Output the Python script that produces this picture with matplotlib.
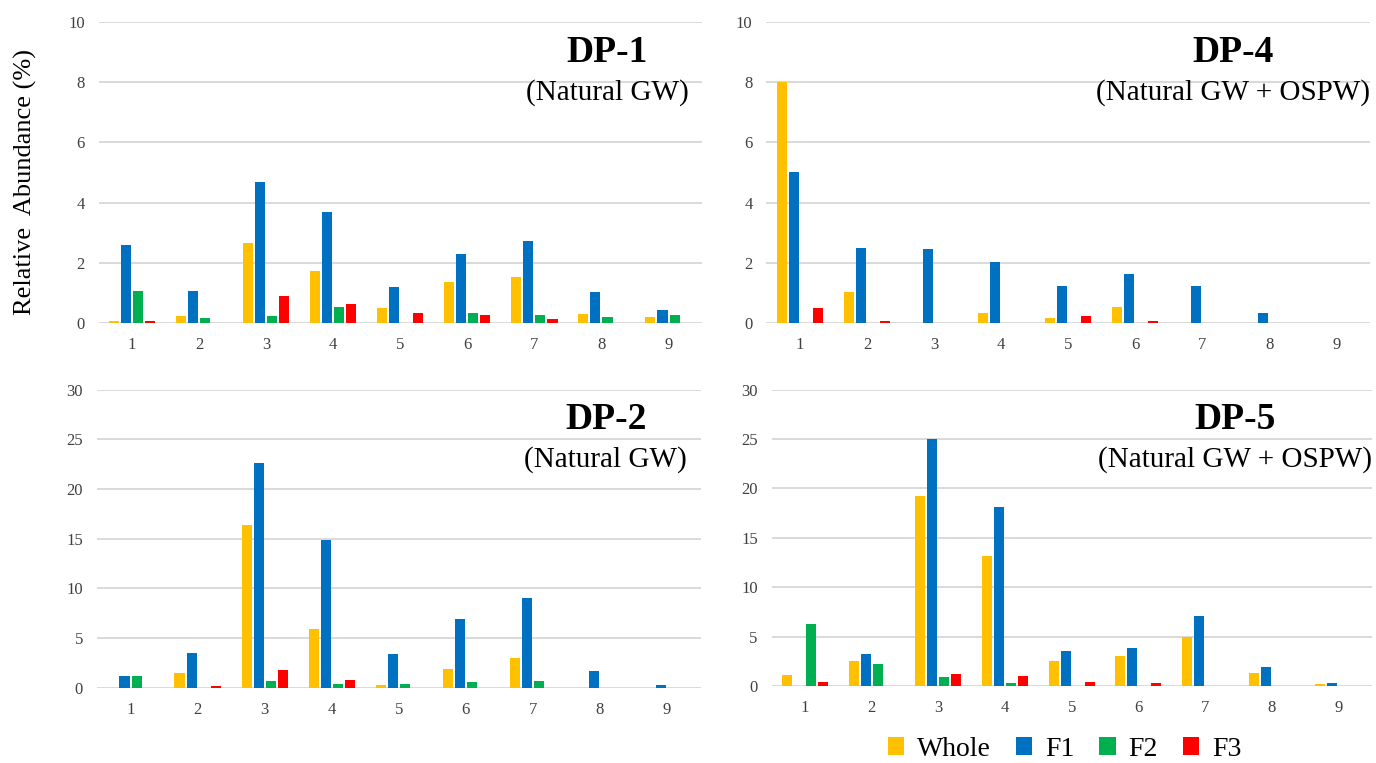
import matplotlib
matplotlib.use('Agg')
import matplotlib.pyplot as plt
import numpy as np

plt.rcParams['font.family'] = ['Liberation Serif', 'DejaVu Serif']

# values (relative abundance, %)
categories = [1, 2, 3, 4, 5, 6, 7, 8, 9]
series_names = ['Whole', 'F1', 'F2', 'F3']
colors = ['#FFC000', '#0070C0', '#00B050', '#FF0000']

dp1_whole = [0.06, 0.24, 2.67, 1.74, 0.49, 1.36, 1.52, 0.30, 0.19]
dp1_f1 = [2.59, 1.06, 4.70, 3.70, 1.19, 2.29, 2.71, 1.03, 0.44]
dp1_f2 = [1.06, 0.17, 0.24, 0.52, 0.0, 0.33, 0.26, 0.19, 0.26]
dp1_f3 = [0.06, 0.0, 0.88, 0.64, 0.33, 0.26, 0.13, 0.0, 0.0]

dp4_whole = [8.00, 1.03, 0.0, 0.32, 0.18, 0.52, 0.0, 0.0, 0.0]
dp4_f1 = [5.03, 2.49, 2.47, 2.01, 1.22, 1.63, 1.22, 0.32, 0.0]
dp4_f2 = [0.0, 0.0, 0.0, 0.0, 0.0, 0.0, 0.0, 0.0, 0.0]
dp4_f3 = [0.50, 0.08, 0.0, 0.0, 0.22, 0.08, 0.0, 0.0, 0.0]

dp2_whole = [0.0, 1.51, 16.34, 5.94, 0.30, 1.85, 2.95, 0.0, 0.0]
dp2_f1 = [1.17, 3.46, 22.58, 14.83, 3.36, 6.88, 9.00, 1.68, 0.30]
dp2_f2 = [1.17, 0.0, 0.64, 0.34, 0.40, 0.57, 0.64, 0.0, 0.0]
dp2_f3 = [0.0, 0.20, 1.78, 0.74, 0.0, 0.0, 0.0, 0.0, 0.0]

dp5_whole = [1.08, 2.49, 19.20, 13.20, 2.49, 3.03, 4.95, 1.35, 0.20]
dp5_f1 = [0.0, 3.23, 24.98, 18.10, 3.57, 3.87, 7.07, 1.89, 0.34]
dp5_f2 = [6.26, 2.26, 0.88, 0.30, 0.0, 0.0, 0.0, 0.0, 0.0]
dp5_f3 = [0.37, 0.0, 1.18, 1.00, 0.37, 0.34, 0.0, 0.0, 0.0]

panels = [
    ('DP-1', '(Natural GW)', [dp1_whole, dp1_f1, dp1_f2, dp1_f3], 10, 2,
     [0.0716, 0.5767, 0.4386, 0.3945], 0.843),
    ('DP-4', '(Natural GW + OSPW)', [dp4_whole, dp4_f1, dp4_f2, dp4_f3], 10, 2,
     [0.5570, 0.5767, 0.4386, 0.3945], 0.773),
    ('DP-2', '(Natural GW)', [dp2_whole, dp2_f1, dp2_f2, dp2_f3], 30, 5,
     [0.0705, 0.0987, 0.4386, 0.3906], 0.843),
    ('DP-5', '(Natural GW + OSPW)', [dp5_whole, dp5_f1, dp5_f2, dp5_f3], 30, 5,
     [0.5608, 0.1009, 0.4360, 0.3886], 0.773),
]

fig = plt.figure(figsize=(13.76, 7.63), dpi=100)

x = np.array(categories)
pitch = 0.18
width = 0.15
offsets = [-1.5 * pitch, -0.5 * pitch, 0.5 * pitch, 1.5 * pitch]

for title, sub, data, ymax, step, rect, tx in panels:
    ax = fig.add_axes(rect)
    for vals, c, off, name in zip(data, colors, offsets, series_names):
        ax.bar(x + off, vals, width=width, color=c, label=name, zorder=3)
    ax.set_xlim(0.5, 9.5)
    ax.set_ylim(0, ymax)
    ax.set_yticks(np.arange(0, ymax + step, step))
    ax.set_xticks(x)
    ax.yaxis.grid(True, color='#d9d9d9', lw=1.4, zorder=0)
    ax.set_axisbelow(True)
    for s in ax.spines.values():
        s.set_visible(False)
    ax.tick_params(length=0, labelsize=12, labelcolor='#404040', pad=10)
    ax.text(tx, 0.90, title, transform=ax.transAxes, ha='center', va='center',
            fontsize=27, fontweight='bold')
    ax.text(tx, 0.765, sub, transform=ax.transAxes, ha='center', va='center',
            fontsize=21)
    if title == 'DP-1':
        handles, labels = ax.get_legend_handles_labels()

fig.text(25 / 1376, 1 - 182 / 763, 'Relative  Abundance (%)', rotation=90,
         ha='center', va='center', fontsize=19)

fig.legend(handles, labels, loc='center', bbox_to_anchor=(0.7736, 0.018),
           ncol=4, frameon=False, fontsize=20, handlelength=0.6,
           handleheight=0.6, handletextpad=0.45, columnspacing=0.9,
           borderaxespad=0, borderpad=0)

fig.savefig('out.png', dpi=100)
